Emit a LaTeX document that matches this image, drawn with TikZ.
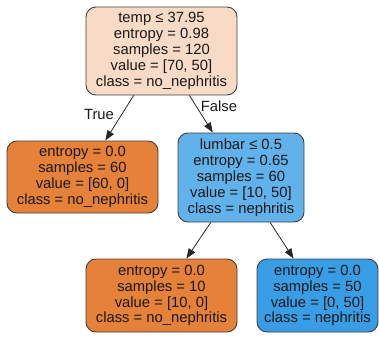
\documentclass[tikz,border=0pt]{standalone}
\usepackage{fontspec}
\setmainfont{Liberation Sans}
\usetikzlibrary{arrows.meta}
\definecolor{rootc}{HTML}{F8DBC6}
\definecolor{orangec}{HTML}{E58139}
\definecolor{lbluec}{HTML}{61B1EA}
\definecolor{bluec}{HTML}{399DE5}
\definecolor{edgec}{HTML}{404040}
\tikzset{
  treebox/.style={draw=edgec, line width=0.9pt, rounded corners=10pt, inner sep=0pt,
    align=center, font=\fontsize{14.8}{15.9}\selectfont, text=black!90},
  conn/.style={draw=black!85, line width=0.8pt, -{Triangle[length=10pt,width=7.5pt]}},
  elabel/.style={font=\fontsize{14.8}{16}\selectfont, text=black!90, inner sep=0pt}
}
\begin{document}
\begin{tikzpicture}[x=1pt,y=-1pt]
\useasboundingbox (0,0) rectangle (379,337);
\node[treebox, fill=rootc, minimum width=151pt, minimum height=88pt] (root) at (161.5,51)
  {temp ≤ 37.95\\entropy = 0.98\\samples = 120\\value = [70, 50]\\class = no\_nephritis};
\node[treebox, fill=orangec, minimum width=151pt, minimum height=72pt] (l1) at (82.5,177)
  {entropy = 0.0\\samples = 60\\value = [60, 0]\\class = no\_nephritis};
\node[treebox, fill=lbluec, minimum width=126pt, minimum height=89pt] (lum) at (241,177.5)
  {lumbar ≤ 0.5\\entropy = 0.65\\samples = 60\\value = [10, 50]\\class = nephritis};
\node[treebox, fill=orangec, minimum width=151pt, minimum height=73pt] (l2) at (161.5,295.5)
  {entropy = 0.0\\samples = 10\\value = [10, 0]\\class = no\_nephritis};
\node[treebox, fill=bluec, minimum width=121pt, minimum height=73pt] (l3) at (317.5,295.5)
  {entropy = 0.0\\samples = 50\\value = [0, 50]\\class = nephritis};
\draw[conn] (root) -- (l1);
\draw[conn] (root) -- (lum);
\draw[conn] (lum) -- (l2);
\draw[conn] (lum) -- (l3);
\node[elabel] (tl) at (99,114) {True};
\node[elabel] (fl) at (219,106) {False};
\end{tikzpicture}
\end{document}
